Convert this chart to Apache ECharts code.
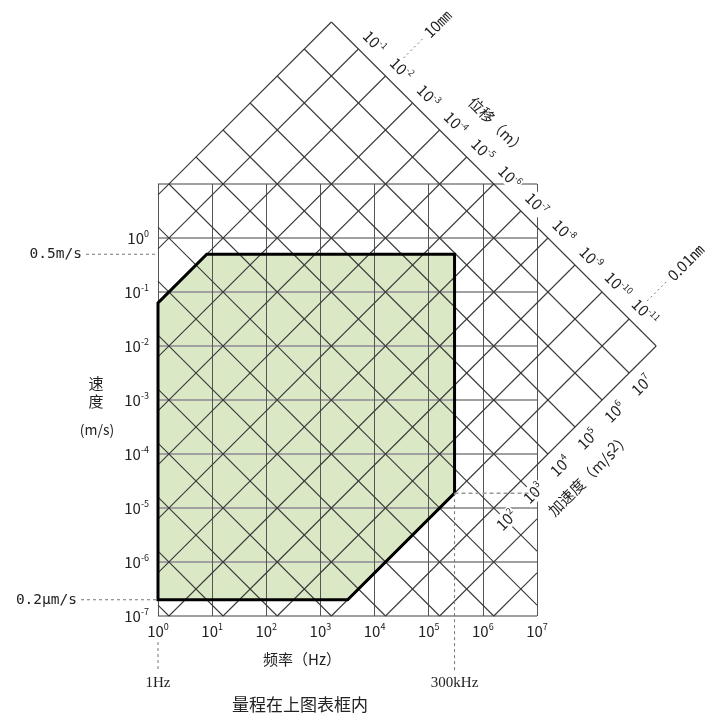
<!DOCTYPE html>
<html lang="zh">
<head>
<meta charset="utf-8">
<title>测量范围</title>
<script src="https://cdn.jsdelivr.net/npm/echarts@6.0.0/dist/echarts.min.js"></script>
<style>
  html, body { margin: 0; padding: 0; background: #fff; }
  #chart { width: 714px; height: 720px; }
</style>
</head>
<body>
<div id="chart"></div>
<script>
// Frequency decades on the x axis (exponent of Hz)
const freqExponents = [0, 1, 2, 3, 4, 5, 6, 7];
// Velocity decades on the y axis (exponent of m/s); the top decade carries no label
const velocityExponents = [-7, -6, -5, -4, -3, -2, -1, 0, 1];
// Constant-displacement diagonals (exponent of m) and the ones that get a label
const displacementExponents = [0, -1, -2, -3, -4, -5, -6, -7, -8, -9, -10, -11, -12, -13, -14];
const displacementTicks = [-1, -2, -3, -4, -5, -6, -7, -8, -9, -10, -11];
// Constant-acceleration diagonals (exponent of m/s^2) and the ones that get a label
const accelerationExponents = [-6, -5, -4, -3, -2, -1, 0, 1, 2, 3, 4, 5, 6, 7, 8];
const accelerationTicks = [2, 3, 4, 5, 6, 7];
// Outer limits of the diagonal scales
const displacementLimits = [-12, 0];
const accelerationLimit = 8;
// Measurable range
const rangeFrequency = [1, 300000];          // Hz
const rangeVelocity = [0.2e-6, 0.5];         // m/s
const rangeDisplacement = [0.01e-9, 10e-3];  // m
const rangeTexts = {
  freqLow: '1Hz', freqHigh: '300kHz',
  velHigh: '0.5m/s', velLow: '0.2μm/s',
  dispHigh: '10㎜', dispLow: '0.01㎚'
};

const FONT = '"Noto Sans CJK JP", "Noto Sans CJK SC", "Noto Sans", sans-serif';
const MONO = '"DejaVu Sans Mono", "Liberation Mono", monospace';
const SERIF = '"Liberation Serif", "DejaVu Serif", serif';
const INK = '#222';

const lg = Math.log10;
const LOG2PI = lg(2 * Math.PI);
const U0 = freqExponents[0], U1 = freqExponents[freqExponents.length - 1];
const W0 = velocityExponents[0], W1 = velocityExponents[velocityExponents.length - 1];
// displacement line: log v = log f + log d + log(2pi); acceleration line: log v = -log f + log a - log(2pi)
const C_LO = displacementLimits[0] + LOG2PI, C_HI = displacementLimits[1] + LOG2PI;
const K_HI = accelerationLimit - LOG2PI;
const EPS = 1e-9;

function dispSegment(n) {
  const c = n + LOG2PI;
  const inStrip = c >= C_LO - EPS && c <= C_HI + EPS;
  const u0 = Math.max(U0, W0 - c);
  let u1 = (K_HI - c) / 2;
  if (!inStrip) u1 = Math.min(u1, U1, W1 - c);
  return u1 > u0 ? [[u0, u0 + c], [u1, u1 + c]] : null;
}

function accSegment(m) {
  const k = m - LOG2PI;
  if (k > K_HI + EPS) return null;
  let u0 = Infinity, u1 = -Infinity;
  const r0 = Math.max(U0, k - W1), r1 = Math.min(U1, k - W0);
  if (r1 > r0) { u0 = r0; u1 = r1; }
  const s0 = Math.max(U0, (k - C_HI) / 2), s1 = Math.min(k - W0, (k - C_LO) / 2);
  if (s1 > s0) { u0 = Math.min(u0, s0); u1 = Math.max(u1, s1); }
  return u1 > u0 ? [[u0, k - u0], [u1, k - u1]] : null;
}

// corner where displacement line n meets the outer acceleration limit
function dispEdgePoint(n) {
  return [(accelerationLimit - n) / 2 - LOG2PI, (accelerationLimit + n) / 2];
}
// corner where acceleration line m meets the smallest displacement line
function accEdgePoint(m) {
  return [(m - displacementLimits[0]) / 2 - LOG2PI, (m + displacementLimits[0]) / 2];
}

function rangePolygon() {
  const f0 = lg(rangeFrequency[0]), f1 = lg(rangeFrequency[1]);
  const v0 = lg(rangeVelocity[0]), v1 = lg(rangeVelocity[1]);
  const d0 = lg(rangeDisplacement[0]), d1 = lg(rangeDisplacement[1]);
  return [
    [f0, v0],
    [f0, f0 + d1 + LOG2PI],
    [v1 - d1 - LOG2PI, v1],
    [f1, v1],
    [f1, f1 + d0 + LOG2PI],
    [v0 - d0 - LOG2PI, v0]
  ];
}

const axisRich = {
  b: { fontSize: 15, fontFamily: FONT, color: INK, lineHeight: 18 },
  s: { fontSize: 9, fontFamily: FONT, color: INK, lineHeight: 10, verticalAlign: 'top' }
};
const elRich = {
  b: { fontSize: 15, fontFamily: FONT, fill: INK, lineHeight: 18 },
  s: { fontSize: 9, fontFamily: FONT, fill: INK, lineHeight: 10, verticalAlign: 'top' }
};
function pow10(n) { return '{b|10}{s|' + n + '}'; }

function seg(p, q, style) {
  return { type: 'line', shape: { x1: p[0], y1: p[1], x2: q[0], y2: q[1] }, style: style };
}

function renderRange(params, api) {
  const pts = rangePolygon().map(p => api.coord(p));
  return { type: 'polygon', shape: { points: pts }, style: { fill: '#dbe8c6' } };
}

function renderDiagonals(params, api) {
  const children = [];
  const st = { stroke: '#3a3a3a', lineWidth: 1.1 };
  displacementExponents.forEach(n => {
    const s = dispSegment(n);
    if (s) children.push(seg(api.coord(s[0]), api.coord(s[1]), st));
  });
  accelerationExponents.forEach(m => {
    const s = accSegment(m);
    if (s) children.push(seg(api.coord(s[0]), api.coord(s[1]), st));
  });
  return { type: 'group', children: children };
}

function renderOutline(params, api) {
  const pts = rangePolygon().map(p => api.coord(p));
  return { type: 'polygon', shape: { points: pts }, style: { fill: null, stroke: '#000', lineWidth: 3, lineJoin: 'miter' } };
}

function renderLabels(params, api) {
  const children = [];
  const dash = { stroke: '#777', lineWidth: 1, lineDash: [3, 3] };
  const Q = Math.PI / 4;

  // displacement scale along the upper-right edge
  displacementTicks.forEach(n => {
    const p = api.coord(dispEdgePoint(n));
    children.push({
      type: 'text', x: p[0] + 16, y: p[1] - 7, rotation: -Q,
      style: { text: pow10(n), rich: elRich, align: 'center', verticalAlign: 'middle', backgroundColor: '#fff', padding: [0, 1] }
    });
  });
  // acceleration scale along the lower-right edge
  accelerationTicks.forEach(m => {
    const p = api.coord(accEdgePoint(m));
    children.push({
      type: 'text', x: p[0] + 12.5, y: p[1] + 12, rotation: Q,
      style: { text: pow10(m), rich: elRich, align: 'center', verticalAlign: 'middle', backgroundColor: '#fff', padding: [0, 1] }
    });
  });

  // scale titles
  const dt = api.coord(dispEdgePoint((displacementTicks[3] + displacementTicks[4]) / 2));
  children.push({
    type: 'text', x: dt[0] + 44, y: dt[1] - 18, rotation: -Q,
    style: { text: '位移（m）', font: '15px ' + FONT, fill: INK, align: 'center', verticalAlign: 'middle' }
  });
  const at = api.coord(accEdgePoint((accelerationTicks[2] + accelerationTicks[3]) / 2));
  children.push({
    type: 'text', x: at[0] + 28, y: at[1] + 34, rotation: Q,
    style: {
      text: '{t|加速度（m/s}{p|2}{t|）}', align: 'center', verticalAlign: 'middle',
      rich: {
        t: { fontSize: 15, fontFamily: FONT, fill: INK, lineHeight: 20 },
        p: { fontSize: 14, fontFamily: FONT, fill: INK, lineHeight: 14, verticalAlign: 'top' }
      }
    }
  });

  // displacement limits of the range, with leaders
  [[lg(rangeDisplacement[1]), rangeTexts.dispHigh], [lg(rangeDisplacement[0]), rangeTexts.dispLow]].forEach(([n, label]) => {
    const p = api.coord(dispEdgePoint(n));
    children.push(seg([p[0] + 18, p[1] - 18], [p[0] + 38, p[1] - 38], { stroke: '#777', lineWidth: 1, lineDash: [2, 3] }));
    children.push({
      type: 'text', x: p[0] + 41, y: p[1] - 41, rotation: Q,
      style: { text: label, font: '15px ' + FONT, fill: INK, align: 'left', verticalAlign: 'middle' }
    });
  });

  // velocity limits, with leaders to the left edge
  const left = api.coord([U0, W0])[0];
  [[lg(rangeVelocity[1]), rangeTexts.velHigh, 76], [lg(rangeVelocity[0]), rangeTexts.velLow, 81]].forEach(([w, label, gap]) => {
    const y = api.coord([U0, w])[1];
    children.push(seg([left - gap + 4, y], [left, y], dash));
    children.push({
      type: 'text', x: left - gap, y: y,
      style: { text: label, font: '14.5px ' + MONO, fill: INK, align: 'right', verticalAlign: 'middle' }
    });
  });

  // frequency limits, with leaders below the axis
  const bottom = api.coord([U0, W0])[1];
  const poly = rangePolygon();
  const xl = api.coord([lg(rangeFrequency[0]), W0])[0];
  children.push(seg([xl, bottom + 26], [xl, bottom + 56], dash));
  children.push({ type: 'text', x: xl, y: bottom + 67, style: { text: rangeTexts.freqLow, font: '15px ' + SERIF, fill: INK, align: 'center', verticalAlign: 'middle' } });
  const corner = api.coord(poly[4]);
  children.push(seg([corner[0], corner[1]], [corner[0], bottom + 56], dash));
  children.push(seg([corner[0], corner[1]], [api.coord([U1, W0])[0], corner[1]], { stroke: '#999', lineWidth: 1.5, lineDash: [4, 3] }));
  children.push({ type: 'text', x: corner[0], y: bottom + 67, style: { text: rangeTexts.freqHigh, font: '15px ' + SERIF, fill: INK, align: 'center', verticalAlign: 'middle' } });

  // velocity axis title
  const midY = (api.coord([U0, W0])[1] + api.coord([U0, W1])[1]) / 2;
  [['速', -17], ['度', 1]].forEach(([ch, dy]) => {
    children.push({ type: 'text', x: left - 62, y: midY + dy, style: { text: ch, font: '15px ' + FONT, fill: INK, align: 'center', verticalAlign: 'middle' } });
  });
  children.push({ type: 'text', x: left - 61, y: midY + 30, style: { text: '(m/s)', font: '14px ' + FONT, fill: INK, align: 'center', verticalAlign: 'middle' } });

  // frequency axis title and note
  children.push({ type: 'text', x: left + 144, y: bottom + 43, style: { text: '频率（Hz）', font: '15px ' + FONT, fill: INK, align: 'center', verticalAlign: 'middle' } });
  children.push({ type: 'text', x: left + 142, y: bottom + 89, style: { text: '量程在上图表框内', font: '17px ' + FONT, fill: INK, align: 'center', verticalAlign: 'middle' } });

  return { type: 'group', children: children };
}

const chart = echarts.init(document.getElementById('chart'), null, { renderer: 'canvas' });
const single = [[0, 0]];
chart.setOption({
  animation: false,
  backgroundColor: '#fff',
  grid: { left: 158, right: 177, top: 184, bottom: 104, containLabel: false, outerBoundsMode: 'none' },
  xAxis: {
    type: 'value', min: U0, max: U1, interval: 1,
    axisLine: { show: false }, axisTick: { show: false },
    splitLine: { show: true, lineStyle: { color: '#555', width: 1 } },
    axisLabel: { margin: 6, formatter: v => pow10(v), rich: axisRich }
  },
  yAxis: {
    type: 'value', min: W0, max: W1, interval: 1,
    axisLine: { show: false }, axisTick: { show: false },
    splitLine: { show: true, lineStyle: { color: '#a0a0a0', width: 2 } },
    axisLabel: { margin: 9, formatter: v => (v === W1 ? '' : pow10(v)), rich: axisRich }
  },
  series: [
    { type: 'custom', coordinateSystem: 'cartesian2d', z: -1, silent: true, data: single, renderItem: renderRange },
    { type: 'custom', coordinateSystem: 'cartesian2d', z: 3, silent: true, data: single, renderItem: renderDiagonals },
    { type: 'custom', coordinateSystem: 'cartesian2d', z: 4, silent: true, data: single, renderItem: renderOutline },
    { type: 'custom', coordinateSystem: 'cartesian2d', z: 5, silent: true, data: single, renderItem: renderLabels }
  ]
});
</script>
</body>
</html>
